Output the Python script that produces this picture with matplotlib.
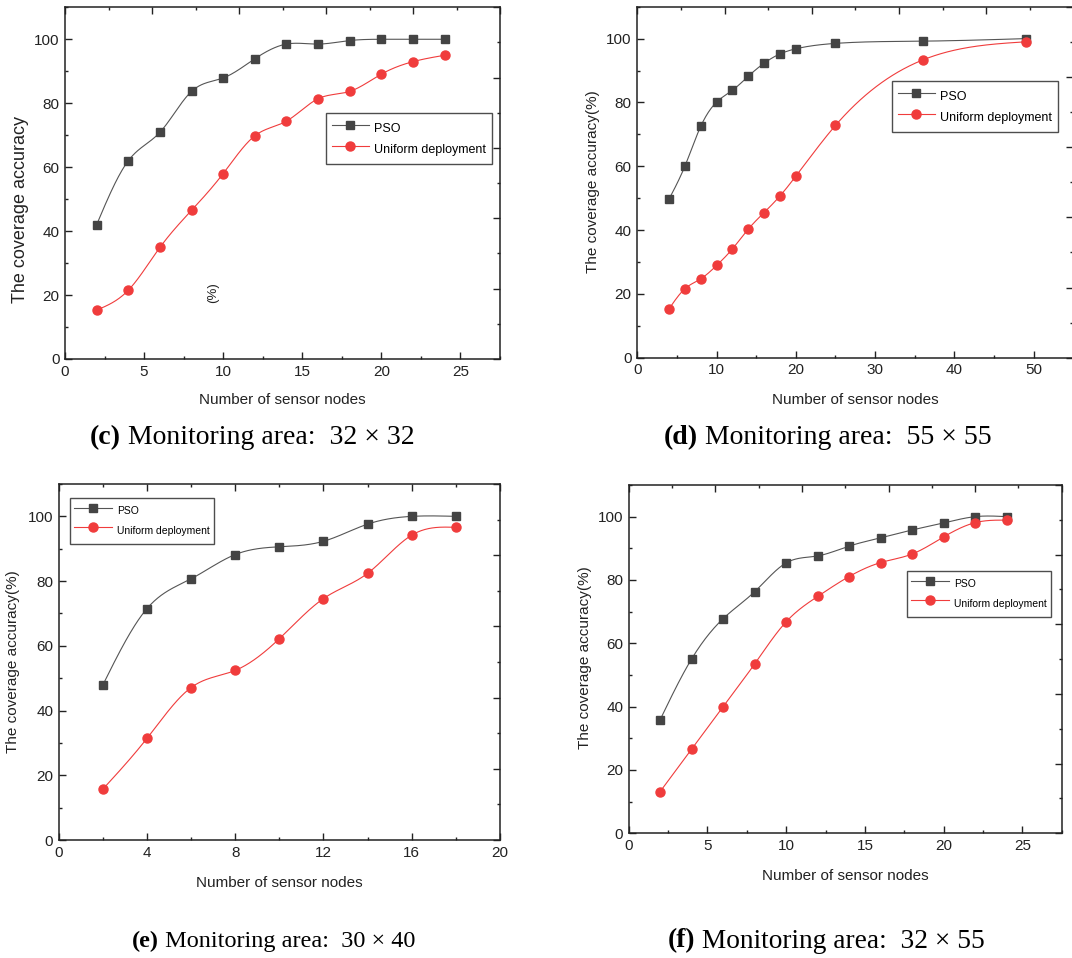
import numpy as np
import matplotlib
matplotlib.use("Agg")
import matplotlib.pyplot as plt
from matplotlib.ticker import MultipleLocator

plt.rcParams['font.family'] = ['Liberation Sans', 'DejaVu Sans']

# ---------------- data ----------------
c_nodes = [2, 4, 6, 8, 10, 12, 14, 16, 18, 20, 22, 24]
c_pso = [42.0, 62.0, 70.9, 83.7, 87.9, 93.9, 98.5, 98.5, 99.6, 100.0, 100.0, 100.0]
c_uni = [15.3, 21.5, 34.9, 46.5, 58.0, 69.8, 74.4, 81.4, 83.7, 89.1, 93.0, 95.0]

d_nodes = [4, 6, 8, 10, 12, 14, 16, 18, 20, 25, 36, 49]
d_pso = [49.7, 60.0, 72.5, 80.1, 83.8, 88.2, 92.3, 95.2, 96.8, 98.5, 99.2, 100.0]
d_uni = [15.3, 21.6, 24.7, 28.9, 34.1, 40.3, 45.5, 50.7, 56.9, 72.8, 93.3, 99.0]

e_nodes = [2, 4, 6, 8, 10, 12, 14, 16, 18]
e_pso = [47.9, 71.5, 80.7, 88.2, 90.6, 92.3, 97.6, 100.0, 100.0]
e_uni = [15.7, 31.4, 47.1, 52.4, 62.2, 74.6, 82.4, 94.2, 96.6]

f_nodes = [2, 4, 6, 8, 10, 12, 14, 16, 18, 20, 22, 24]
f_pso = [35.9, 55.1, 67.8, 76.3, 85.4, 87.6, 90.7, 93.3, 95.8, 98.0, 100.0, 100.0]
f_uni = [13.2, 26.6, 40.0, 53.5, 66.8, 74.8, 81.1, 85.5, 88.2, 93.6, 98.1, 98.9]

series_labels = ["PSO", "Uniform deployment"]
caption_tags = ["(c)", "(d)", "(e)", "(f)"]
caption_texts = [" Monitoring area:  32 × 32",
                 " Monitoring area:  55 × 55",
                 " Monitoring area:  30 × 40",
                 " Monitoring area:  32 × 55"]

# ---------------- helpers ----------------
W, H = 1072, 958
fig = plt.figure(figsize=(W / 100, H / 100), dpi=100)


def rect(l, t, r, b):
    return [l / W, 1 - b / H, (r - l) / W, (b - t) / H]


def natural_spline(x, y, n=400):
    x = np.asarray(x, float)
    y = np.asarray(y, float)
    k = len(x)
    h = np.diff(x)
    A = np.zeros((k, k))
    rhs = np.zeros(k)
    A[0, 0] = 1
    A[-1, -1] = 1
    for i in range(1, k - 1):
        A[i, i - 1] = h[i - 1]
        A[i, i] = 2 * (h[i - 1] + h[i])
        A[i, i + 1] = h[i]
        rhs[i] = 6 * ((y[i + 1] - y[i]) / h[i] - (y[i] - y[i - 1]) / h[i - 1])
    M = np.linalg.solve(A, rhs)
    xs = np.linspace(x[0], x[-1], n)
    idx = np.clip(np.searchsorted(x, xs) - 1, 0, k - 2)
    x0, x1 = x[idx], x[idx + 1]
    hh = x1 - x0
    a = (x1 - xs) / hh
    b = (xs - x0) / hh
    ys = (a * y[idx] + b * y[idx + 1]
          + ((a ** 3 - a) * M[idx] + (b ** 3 - b) * M[idx + 1]) * hh ** 2 / 6)
    return xs, ys


GRAY = '#444444'
LGRAY = '#555555'
RED = '#F03C3C'
INK = '#222222'


def panel(px, nodes, pso, uni, xmax, xmaj, xmin, ylab, ylab_fs, ylab_pos,
          xlab_pos, leg_px, leg_fs, leg_kw):
    ax = fig.add_axes(rect(*px))
    xs, ys = natural_spline(nodes, pso)
    ax.plot(xs, ys, color=LGRAY, lw=0.8, zorder=2)
    xs, ys = natural_spline(nodes, uni)
    ax.plot(xs, ys, color=RED, lw=0.8, zorder=2)
    ax.plot(nodes, pso, ls='none', marker='s', ms=6, color=GRAY, zorder=3)
    ax.plot(nodes, uni, ls='none', marker='o', ms=6.5, color=RED, zorder=3)
    h1, = ax.plot([], [], color=LGRAY, lw=0.8, marker='s', ms=6,
                  mfc=GRAY, mec=GRAY)
    h2, = ax.plot([], [], color=RED, lw=0.8, marker='o', ms=6.5,
                  mfc=RED, mec=RED)
    ax.set_xlim(0, xmax)
    ax.set_ylim(0, 110)
    ax.xaxis.set_major_locator(MultipleLocator(xmaj))
    ax.xaxis.set_minor_locator(MultipleLocator(xmin))
    ax.yaxis.set_minor_locator(MultipleLocator(10))
    ax.set_yticks([0, 20, 40, 60, 80, 100])
    ax.tick_params(which='both', direction='in', top=False, right=False,
                   labelsize=11, colors=INK, width=1.0)
    ax.tick_params(which='major', length=5, pad=4)
    ax.tick_params(which='minor', length=2.5)
    for s in ax.spines.values():
        s.set_linewidth(1.1)
        s.set_color(INK)
    ax.set_xlabel("Number of sensor nodes", fontsize=11, color=INK)
    ax.xaxis.set_label_coords(xlab_pos[0], xlab_pos[1])
    ax.xaxis.label.set_va('center')
    ax.set_ylabel(ylab, fontsize=ylab_fs, color=INK)
    ax.yaxis.set_label_coords(ylab_pos[0], ylab_pos[1])
    ax.yaxis.label.set_va('center')
    # top / right axes of the original plot (independent 0-10 scale)
    ax2 = fig.add_axes(rect(*px), frameon=False)
    ax2.set_xlim(0, 10)
    ax2.set_ylim(0, 10)
    ax2.xaxis.tick_top()
    ax2.yaxis.tick_right()
    ax2.xaxis.set_major_locator(MultipleLocator(2))
    ax2.xaxis.set_minor_locator(MultipleLocator(1))
    ax2.yaxis.set_major_locator(MultipleLocator(2))
    ax2.yaxis.set_minor_locator(MultipleLocator(1))
    ax2.tick_params(which='both', direction='in', labeltop=False,
                    labelright=False, colors=INK, width=1.0)
    ax2.tick_params(which='major', length=5)
    ax2.tick_params(which='minor', length=2.5)
    ax2.patch.set_visible(False)
    # legend
    l, t, r, b = leg_px
    leg = ax.legend([h1, h2], series_labels, loc='upper left',
                    bbox_to_anchor=(l / W, 1 - t / H),
                    bbox_transform=fig.transFigure,
                    fontsize=leg_fs, frameon=True, fancybox=False,
                    borderaxespad=0, **leg_kw)
    leg.get_frame().set_edgecolor(INK)
    leg.get_frame().set_linewidth(1.0)
    return ax


leg_big = dict(handlelength=3.0, handletextpad=0.4, borderpad=0.45,
               handleheight=2.0, labelspacing=0.08)
leg_small = dict(handlelength=3.6, handletextpad=0.55, borderpad=0.4,
                 handleheight=2.3, labelspacing=0.1)

ax_c = panel((65, 7.3, 500, 359), c_nodes, c_pso, c_uni, 27.5, 5, 2.5,
             "The coverage accuracy", 13, (-0.103, 0.426), (0.499, -0.117),
             (326, 113, 489, 162), 9, leg_big)
ax_c.text(213 / W, 1 - 293 / H, "(%)", transform=fig.transFigure, rotation=90,
          fontsize=9.5, ha='center', va='center', color=INK)

panel((637.3, 6.7, 1073.3, 357.7), d_nodes, d_pso, d_uni, 55, 10, 5,
      "The coverage accuracy(%)", 11, (-0.1016, 0.503), (0.499, -0.1205),
      (892, 81, 1061, 128), 9, leg_big)

panel((58.7, 484, 500, 840), e_nodes, e_pso, e_uni, 20, 4, 2,
      "The coverage accuracy(%)", 11, (-0.1036, 0.5), (0.499, -0.121),
      (70, 498, 215, 546), 7.5, leg_small)

panel((628.7, 485, 1061.7, 833.3), f_nodes, f_pso, f_uni, 27.5, 5, 2.5,
      "The coverage accuracy(%)", 11, (-0.101, 0.503), (0.5, -0.1226),
      (907, 571, 1049, 618), 7.5, leg_small)

# captions: bold tag + regular text, centred as a whole
cap_pos = [(252, 438), (828, 438), (274, 941), (826, 941)]
cap_fs = [20, 20, 17.5, 19.7]
SERIF = ['Liberation Serif', 'DejaVu Serif']
renderer = fig.canvas.get_renderer()
for tag, txt, (cx, cy), fs in zip(caption_tags, caption_texts, cap_pos, cap_fs):
    tb = fig.text(0, 1 - cy / H, tag, fontsize=fs, fontweight='bold',
                  family=SERIF, va='center', ha='left', color='black')
    tr = fig.text(0, 1 - cy / H, txt, fontsize=fs, family=SERIF,
                  va='center', ha='left', color='black')
    wb = tb.get_window_extent(renderer).width
    wr = tr.get_window_extent(renderer).width
    x0 = cx - (wb + wr) / 2
    tb.set_x(x0 / W)
    tr.set_x((x0 + wb) / W)

fig.savefig("out.png", dpi=100)
